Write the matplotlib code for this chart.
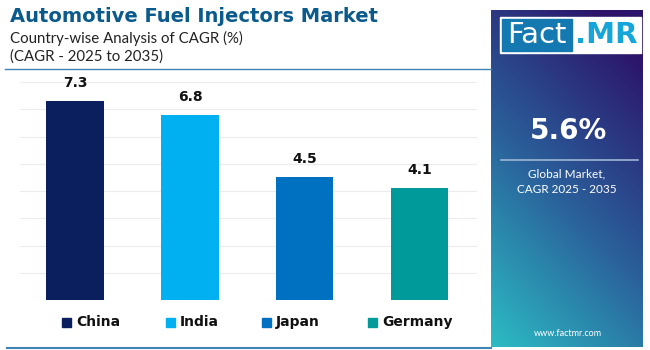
import numpy as np
import matplotlib
matplotlib.use("Agg")
import matplotlib.pyplot as plt
from matplotlib.patches import Rectangle
from matplotlib.lines import Line2D

countries = ["China", "India", "Japan", "Germany"]
cagr = [7.3, 6.8, 4.5, 4.1]
colors = ["#0b1f5e", "#00b0f0", "#0070c0", "#009a9a"]
title = "Automotive Fuel Injectors Market"
subtitle1 = "Country-wise Analysis of CAGR (%)"
subtitle2 = "(CAGR - 2025 to 2035)"
global_value = "5.6%"
global_label = "Global Market,\nCAGR 2025 - 2035"

W, H = 650, 350
fig = plt.figure(figsize=(6.5, 3.5), dpi=100)
fig.patch.set_facecolor("white")

def fx(px):
    return px / W

def fy(py):
    return 1 - py / H

# title block
fig.text(fx(10), fy(17), title, fontsize=14, fontweight="bold", color="#0b5a8c",
         family="DejaVu Sans", va="center", ha="left")
fig.text(fx(10), fy(38), subtitle1, fontsize=10.8, color="#222222",
         family="Lato", va="center", ha="left")
fig.text(fx(10), fy(57), subtitle2, fontsize=10.8, color="#222222",
         family="Lato", va="center", ha="left")
fig.add_artist(Line2D([fx(5), fx(491)], [fy(68.5), fy(68.5)], color="#3f83b5",
                      lw=1.0, transform=fig.transFigure))
fig.add_artist(Line2D([fx(7), fx(491)], [fy(348), fy(348)], color="#3f83b5",
                      lw=1.5, transform=fig.transFigure))

# bar chart
ax = fig.add_axes([fx(20), fy(300), fx(477) - fx(20), (300 - 82) / H])
x = np.arange(len(countries))
ax.bar(x, cagr, width=0.5, color=colors, zorder=3)
for xi, v in zip(x, cagr):
    ax.annotate(f"{v}", (xi, v), xytext=(0, 8), textcoords="offset points",
                ha="center", va="bottom", fontsize=10, fontweight="bold",
                color="#111111")
ax.set_xlim(-0.48, 3.5)
ax.set_ylim(0, 8)
ax.set_yticks(np.arange(0, 9, 1))
ax.grid(axis="y", color="#ececec", lw=0.8, zorder=0)
ax.tick_params(left=False, bottom=False, labelleft=False, labelbottom=False)
for s in ax.spines.values():
    s.set_visible(False)
ax.set_facecolor("none")

# legend
leg_sq = [62, 166, 262, 368]
for px, name, c in zip(leg_sq, countries, colors):
    fig.add_artist(Rectangle((fx(px), fy(327)), fx(9), 9 / H, color=c,
                             transform=fig.transFigure))
    fig.text(fx(px + 14), fy(322), name, fontsize=10, fontweight="bold",
             color="#111111", va="center", ha="left", family="DejaVu Sans")

# right panel with gradient
pax = fig.add_axes([fx(491), fy(347), fx(643) - fx(491), (347 - 10) / H])
ny, nx = 200, 100
yy, xx = np.mgrid[0:1:ny * 1j, 0:1:nx * 1j]
t = np.clip(0.75 * yy + 0.35 * (1 - xx) - 0.1, 0, 1)  # 0 = top-right, 1 = bottom-left
top = np.array([0x2c, 0x13, 0x6a]) / 255
mid = np.array([0x2a, 0x5f, 0x9a]) / 255
bot = np.array([0x2c, 0xbc, 0xc4]) / 255
img = np.where(t[..., None] < 0.5,
               top + (mid - top) * (t[..., None] / 0.5),
               mid + (bot - mid) * ((t[..., None] - 0.5) / 0.5))
pax.imshow(img, extent=[0, 1, 0, 1], aspect="auto", origin="upper")
pax.set_xlim(0, 1)
pax.set_ylim(0, 1)
pax.axis("off")

# logo
fig.add_artist(Rectangle((fx(500), fy(53)), fx(141), 36 / H, color="white",
                         transform=fig.transFigure, zorder=5))
fig.add_artist(Rectangle((fx(502), fy(51)), fx(70), 32 / H, color="#1479b0",
                         transform=fig.transFigure, zorder=6))
fig.text(fx(537), fy(35), "Fact", fontsize=21, color="white", ha="center",
         va="center", family="DejaVu Sans", zorder=7)
fig.text(fx(606), fy(35), ".MR", fontsize=21, color="#16a5d9", fontweight="bold",
         ha="center", va="center", family="DejaVu Sans", zorder=7)

fig.text(fx(568), fy(131), global_value, fontsize=20, fontweight="bold",
         color="white", ha="center", va="center", family="DejaVu Sans")
fig.add_artist(Line2D([fx(501), fx(638)], [fy(160), fy(160)], color="#9fb6d6",
                      lw=1.2, transform=fig.transFigure))
fig.text(fx(567), fy(182), global_label, fontsize=8.5, color="white",
         ha="center", va="center", family="Lato", linespacing=1.5)
fig.text(fx(568), fy(334), "www.factmr.com", fontsize=6.5, color="white",
         ha="center", va="center", family="Lato")

fig.savefig("out.png", dpi=100, facecolor="white")
